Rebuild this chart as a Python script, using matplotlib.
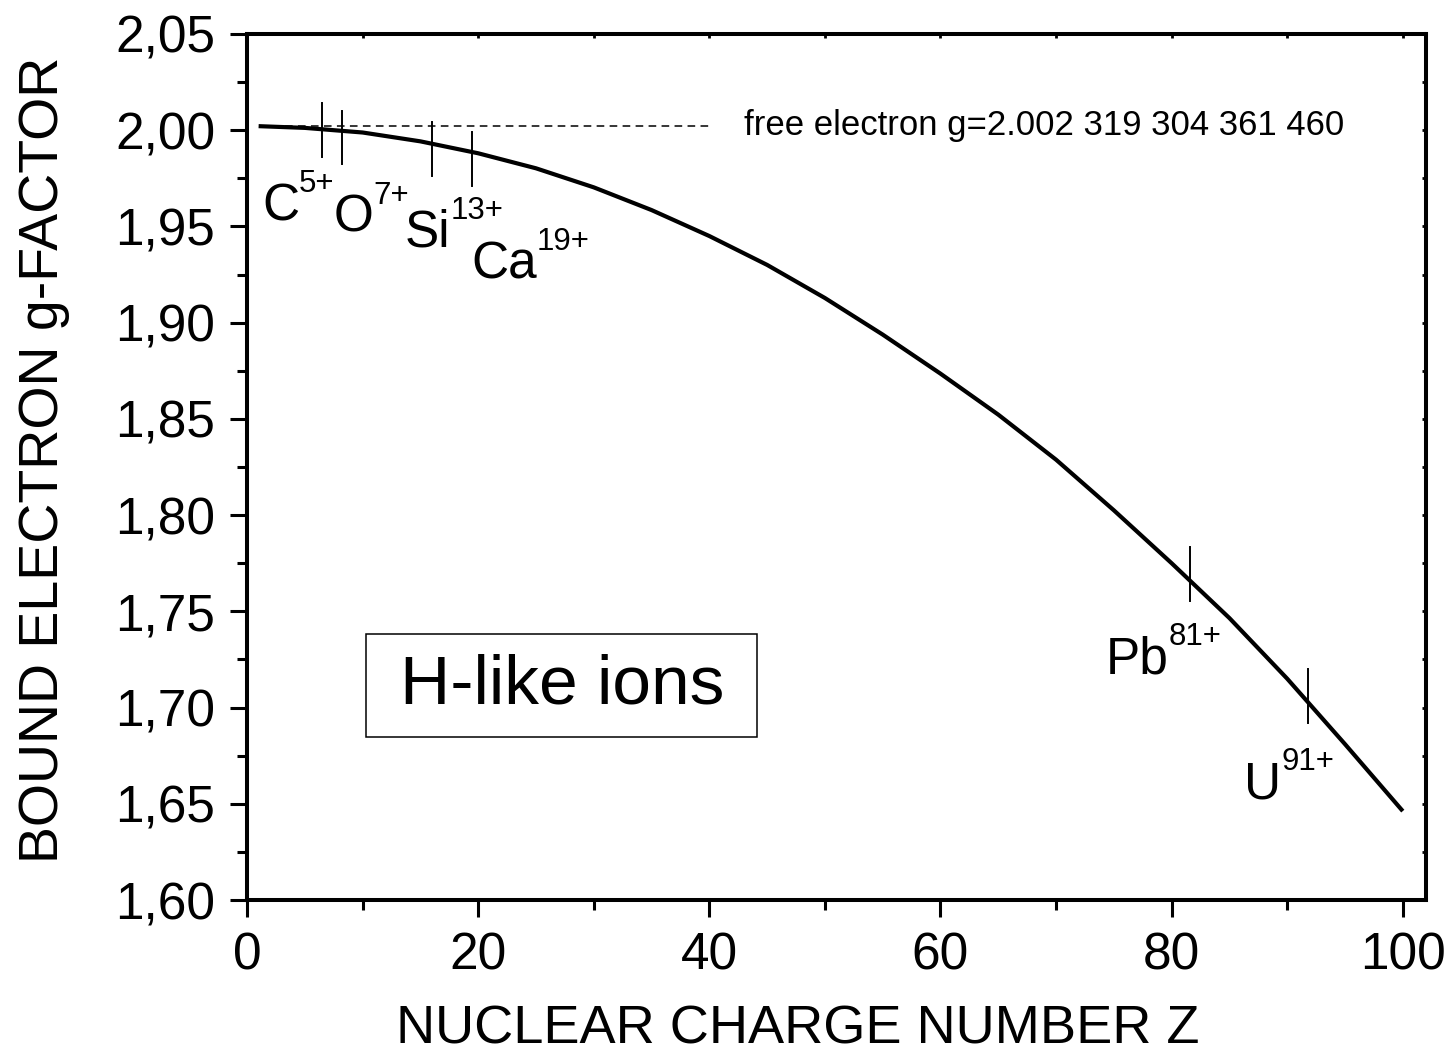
import numpy as np
import matplotlib
matplotlib.use("Agg")
import matplotlib.pyplot as plt
from matplotlib.ticker import MultipleLocator, FuncFormatter
from matplotlib.patches import Rectangle

plt.rcParams['font.family'] = ['Liberation Sans', 'DejaVu Sans']

# bound-electron g-factor vs nuclear charge
Z = [1, 5, 10, 15, 20, 25, 30, 35, 40, 45, 50, 55, 60, 65, 70, 75, 80, 85, 90, 95, 100]
g = [2.0021, 2.0012, 1.9988, 1.9942, 1.9880, 1.9802, 1.9703, 1.9585, 1.9450, 1.9300,
     1.9128, 1.8938, 1.8735, 1.8522, 1.8288, 1.8025, 1.7750, 1.7465, 1.7150, 1.6810, 1.6462]

g_free = 2.002319304361460
free_Z = [1, 40]

# marked ions: name, charge, Z of the marker, g at marker centre
ion_names = ['C', 'O', 'Si', 'Ca', 'Pb', 'U']
ion_charges = ['5+', '7+', '13+', '19+', '81+', '91+']
ion_Z = [6.5, 8.2, 16.0, 19.5, 81.6, 91.8]
ion_g = [2.0001, 1.9963, 1.9902, 1.9850, 1.7693, 1.7060]
# where each ion name sits (Z, g of baseline)
label_pos = [(1.3, 1.9533), (7.45, 1.9472), (13.65, 1.9394), (19.4, 1.9232),
             (74.3, 1.7179), (86.3, 1.6529)]

fig = plt.figure(figsize=(14.55, 10.58), dpi=100)
ax = fig.add_axes([0.1698, 0.1493, 0.8102, 0.8186])

ax.plot(Z, g, color='black', lw=3.0, solid_capstyle='butt', solid_joinstyle='round')
ax.plot(free_Z, [g_free, g_free], color='black', lw=1.1, dashes=(5, 3.5))
ax.text(43.0, 2.0022, 'free electron g=2.002 319 304 361 460', fontsize=25,
        va='center', ha='left')

half = 0.0139
for zi, gi in zip(ion_Z, ion_g):
    ax.plot([zi, zi], [gi - half, gi + half], color='black', lw=1.4)

for name, charge, (lx, ly) in zip(ion_names, ion_charges, label_pos):
    base = ax.text(lx, ly, name, fontsize=37, va='baseline', ha='left')
    ax.annotate(charge, xy=(1, 0), xycoords=base, xytext=(0, 28),
                textcoords='offset points', fontsize=22.5, va='baseline', ha='left')

ax.add_patch(Rectangle((0.101, 0.188), 0.3316, 0.119, transform=ax.transAxes,
                       fill=False, lw=1.1, ec='black'))
ax.text(0.267, 0.2477, 'H-like ions', transform=ax.transAxes, fontsize=50,
        ha='center', va='center')

ax.set_xlim(0, 102)
ax.set_ylim(1.60, 2.05)
ax.xaxis.set_major_locator(MultipleLocator(20))
ax.xaxis.set_minor_locator(MultipleLocator(10))
ax.yaxis.set_major_locator(MultipleLocator(0.05))
ax.yaxis.set_minor_locator(MultipleLocator(0.025))
ax.yaxis.set_major_formatter(FuncFormatter(lambda v, p: f"{v:.2f}".replace('.', ',')))

for s in ax.spines.values():
    s.set_linewidth(2.9)
ax.tick_params(which='major', direction='out', length=12, width=2.2, labelsize=37)
ax.tick_params(which='minor', direction='out', length=7, width=2.2)
ax.tick_params(axis='y', which='major', pad=11)
ax.tick_params(axis='x', which='major', pad=11)

ax.set_xlabel('NUCLEAR CHARGE NUMBER Z', fontsize=39)
ax.set_ylabel('BOUND ELECTRON g-FACTOR', fontsize=40)
ax.xaxis.set_label_coords(0.467, -0.121)
ax.yaxis.set_label_coords(-0.150, 0.508)

# small inward ticks on the top and right frame
ax2 = ax.secondary_xaxis('top')
ax2.xaxis.set_major_locator(MultipleLocator(20))
ax2.xaxis.set_minor_locator(MultipleLocator(10))
ax2.tick_params(which='both', direction='in', length=3, width=2, labeltop=False)
ax3 = ax.secondary_yaxis('right')
ax3.yaxis.set_major_locator(MultipleLocator(0.05))
ax3.yaxis.set_minor_locator(MultipleLocator(0.025))
ax3.tick_params(which='both', direction='in', length=3, width=2, labelright=False)
for a in (ax2, ax3):
    for s in a.spines.values():
        s.set_visible(False)

fig.savefig('out.png', dpi=100)
